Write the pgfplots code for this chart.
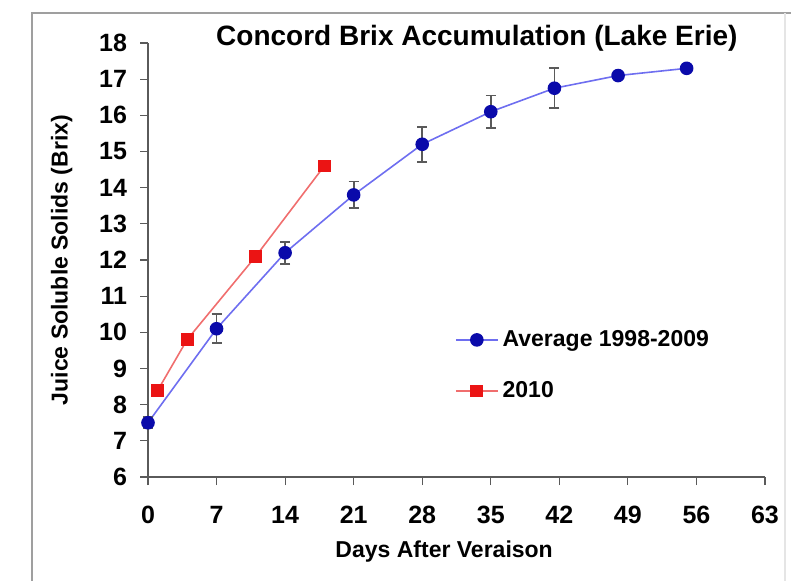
\documentclass[border=0pt]{standalone}
\usepackage{fontspec}
\setmainfont{Liberation Sans}
\usepackage{pgfplots}
\pgfplotsset{compat=1.18}
\definecolor{mkblue}{RGB}{10,10,170}
\definecolor{lnblue}{RGB}{110,110,240}
\definecolor{mkred}{RGB}{235,20,20}
\definecolor{lnred}{RGB}{240,110,110}
\definecolor{axgray}{RGB}{90,90,90}
\pgfplotstableread{
x y e
0 7.5 0.15
7 10.1 0.4
14 12.2 0.3
21 13.8 0.37
28 15.2 0.48
35 16.1 0.45
41.5 16.75 0.55
48 17.1 0
55 17.3 0
}\avgdata
\pgfplotstableread{
x y
1 8.4
4 9.8
11 12.1
18 14.6
}\yeardata
\begin{document}
\begin{tikzpicture}
\useasboundingbox (-74pt,-51.5pt) rectangle (321.5pt,238.5pt);
\draw[gray!75, line width=1.3pt] (-58pt,-60pt) -- (-58pt,232pt) -- (330pt,232pt);
\draw[gray!20, line width=0.8pt] (318.5pt,232pt) -- (318.5pt,-60pt);
\begin{axis}[
  at={(0pt,0pt)}, anchor=south west,
  scale only axis, width=308.5pt, height=217pt,
  xmin=0, xmax=63, ymin=6, ymax=18,
  axis x line*=bottom, axis y line*=left,
  xtick={0,7,...,63}, ytick={6,7,...,18},
  tick align=outside, major tick length=4pt,
  axis line style={axgray, line width=0.8pt},
  tick style={axgray, line width=0.6pt},
  /pgf/number format/assume math mode=true,
  tick label style={font=\fontsize{12.5}{14}\selectfont\bfseries},
  xticklabel style={yshift=-7pt},
  yticklabel style={xshift=-3pt},
  label style={font=\fontsize{11.5}{13}\selectfont\bfseries},
  xlabel={Days After Veraison},
  ylabel={Juice Soluble Solids (Brix)},
  xlabel style={at={(axis description cs:0.48,0)}, anchor=center, yshift=-37.5pt},
  ylabel style={at={(axis description cs:-0.14,0.5)}, anchor=center},
  every axis title shift=0pt,
  title={Concord Brix Accumulation (Lake Erie)},
  title style={font=\fontsize{14}{16}\selectfont\bfseries, at={(axis description cs:0.533,1.012)}, anchor=center},
  clip=false,
  legend style={draw=none, fill=none, at={(axis description cs:0.497,0.348)}, anchor=north west,
    font=\fontsize{11.5}{13}\selectfont\bfseries, row sep=12pt, inner sep=0pt},
  legend cell align=left,
  legend image code/.code={\draw[mark repeat=2,mark phase=2,#1] plot coordinates {(0pt,0pt)(10.5pt,0pt)(21pt,0pt)};},
]
\addplot[color=lnblue, line width=0.8pt, mark=*, mark size=3pt,
  mark options={fill=mkblue, draw=mkblue},
  error bars/.cd, y dir=both, y explicit,
  error bar style={axgray, line width=0.9pt},
  error mark options={rotate=90, mark size=2.5pt, axgray, line width=0.9pt}]
  table[x=x, y=y, y error=e] {\avgdata};
\addlegendentry{Average 1998-2009}
\addplot[color=lnred, line width=0.8pt, mark=square*, mark size=2.8pt,
  mark options={fill=mkred, draw=mkred}]
  table[x=x, y=y] {\yeardata};
\addlegendentry{2010}
\end{axis}
\end{tikzpicture}
\end{document}
